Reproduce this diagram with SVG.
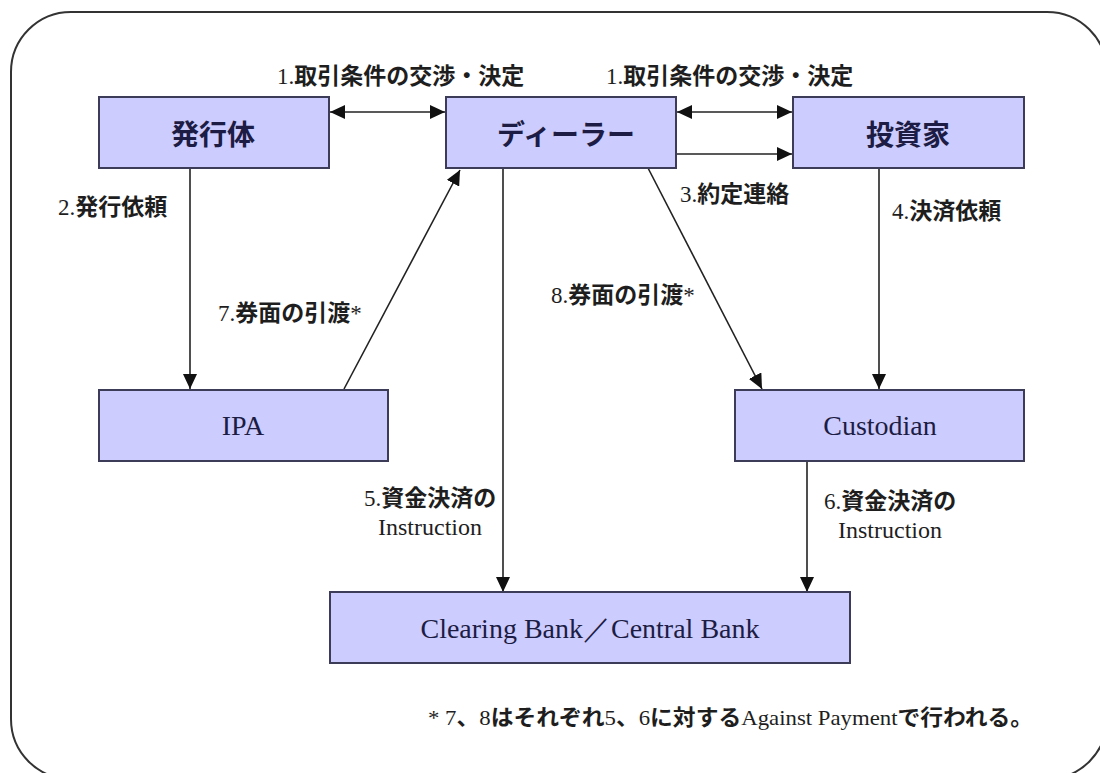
<svg xmlns="http://www.w3.org/2000/svg" width="1100" height="773" viewBox="0 0 1100 773">
<style>
.box{fill:#ccccff;stroke:#3c3c58;stroke-width:2}
.bl{font-family:"Noto Sans CJK JP",sans-serif;font-weight:700;font-size:28px;fill:#1c1c44;text-anchor:middle}
.bs{font-family:"Liberation Serif",serif;font-size:28px;fill:#1c1c44;text-anchor:middle}
.lb{font-family:"Noto Sans CJK JP",sans-serif;font-weight:700;font-size:23px;fill:#1e1e1e}
.n{font-family:"Liberation Serif",serif;font-weight:400}
.ins{font-family:"Liberation Serif",serif;font-size:24px;fill:#1e1e1e;text-anchor:middle}
.ln{stroke:#222;stroke-width:1.6;fill:none}
</style>
<defs>
<marker id="ah" markerUnits="userSpaceOnUse" markerWidth="15" markerHeight="14" viewBox="0 0 15 14" refX="15" refY="7" orient="auto-start-reverse">
<path d="M0,0 L15,7 L0,14 z" fill="#111"/>
</marker>
</defs>
<rect x="0" y="0" width="1100" height="773" fill="#fff"/>
<rect id="frame" x="11" y="12" width="1096" height="767" rx="60" ry="60" fill="#fff" stroke="#333" stroke-width="2"/>

<g id="connectors">
<line class="ln" x1="330" y1="112" x2="445" y2="112" marker-start="url(#ah)" marker-end="url(#ah)"/>
<line class="ln" x1="677" y1="112" x2="792" y2="112" marker-start="url(#ah)" marker-end="url(#ah)"/>
<line class="ln" x1="677" y1="154" x2="792" y2="154" marker-end="url(#ah)"/>
<line class="ln" x1="190" y1="168" x2="190" y2="389" marker-end="url(#ah)"/>
<line class="ln" x1="344" y1="389" x2="460" y2="170" marker-end="url(#ah)"/>
<line class="ln" x1="503" y1="168" x2="503" y2="592" marker-end="url(#ah)"/>
<line class="ln" x1="648" y1="168" x2="762" y2="389" marker-end="url(#ah)"/>
<line class="ln" x1="879" y1="168" x2="879" y2="389" marker-end="url(#ah)"/>
<line class="ln" x1="807" y1="461" x2="807" y2="592" marker-end="url(#ah)"/>
</g>

<g id="issuer">
<rect class="box" x="99" y="97" width="230" height="71"/>
<text class="bl" x="213" y="145">発行体</text>
</g>
<g id="dealer">
<rect class="box" x="446" y="97" width="230" height="71"/>
<text class="bl" x="566" y="145">ディーラー</text>
</g>
<g id="investor">
<rect class="box" x="793" y="97" width="231" height="71"/>
<text class="bl" x="908" y="145">投資家</text>
</g>
<g id="ipa">
<rect class="box" x="99" y="390" width="289" height="71"/>
<text class="bs" x="243" y="435">IPA</text>
</g>
<g id="custodian">
<rect class="box" x="735" y="390" width="289" height="71"/>
<text class="bs" x="880" y="435">Custodian</text>
</g>
<g id="clearing">
<rect class="box" x="330" y="592" width="520" height="71"/>
<text class="bs" x="590" y="638">Clearing Bank／Central Bank</text>
</g>

<g id="labels">
<text class="lb" x="277" y="84"><tspan class="n">1.</tspan>取引条件の交渉・決定</text>
<text class="lb" x="606" y="84"><tspan class="n">1.</tspan>取引条件の交渉・決定</text>
<text class="lb" x="58" y="215"><tspan class="n">2.</tspan>発行依頼</text>
<text class="lb" x="680" y="202"><tspan class="n">3.</tspan>約定連絡</text>
<text class="lb" x="892" y="219"><tspan class="n">4.</tspan>決済依頼</text>
<text class="lb" x="218" y="321"><tspan class="n">7.</tspan>券面の引渡<tspan class="n">*</tspan></text>
<text class="lb" x="551" y="303"><tspan class="n">8.</tspan>券面の引渡<tspan class="n">*</tspan></text>
<text class="lb" x="430" y="506" text-anchor="middle"><tspan class="n">5.</tspan>資金決済の</text>
<text class="ins" x="430" y="535">Instruction</text>
<text class="lb" x="890" y="509" text-anchor="middle"><tspan class="n">6.</tspan>資金決済の</text>
<text class="ins" x="890" y="538">Instruction</text>
<text class="lb" x="428" y="725" textLength="605" lengthAdjust="spacingAndGlyphs" style="font-size:22px"><tspan class="n">* 7</tspan>、<tspan class="n">8</tspan>はそれぞれ<tspan class="n">5</tspan>、<tspan class="n">6</tspan>に対する<tspan class="n">Against Payment</tspan>で行われる。</text>
</g>
</svg>
